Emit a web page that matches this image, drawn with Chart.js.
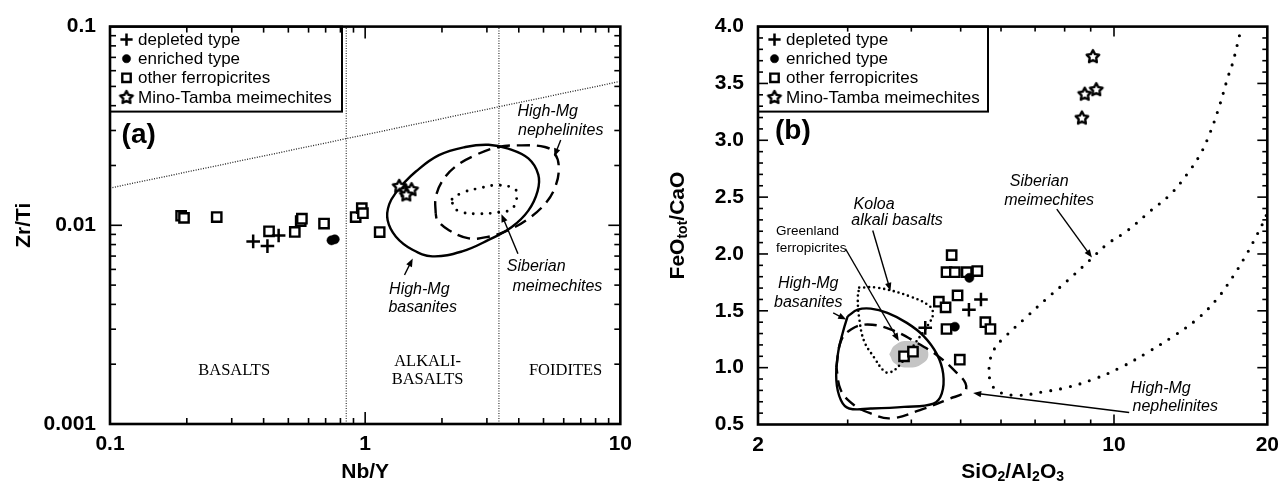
<!DOCTYPE html>
<html>
<head>
<meta charset="utf-8">
<script src="https://cdn.jsdelivr.net/npm/chart.js@4.4.1/dist/chart.umd.min.js"></script>
<style>
  html, body { margin: 0; padding: 0; background: #fff; overflow: hidden; }
  #wrap { position: relative; width: 1287px; height: 485px; }
  canvas { position: absolute; top: 0; }
  #chartA { left: 0; }
  #chartB { left: 640px; }
</style>
</head>
<body>
<div id="wrap">
  <canvas id="chartA" width="640" height="485"></canvas>
  <canvas id="chartB" width="647" height="485"></canvas>
</div>
<script>
// ---------------- Panel (a): Zr/Ti vs Nb/Y (log-log) ----------------
const A_X_TICKS = [0.1, 1, 10];
const A_X_TICK_LABELS = ['0.1', '1', '10'];
const A_Y_TICKS = [0.001, 0.01, 0.1];
const A_Y_TICK_LABELS = ['0.001', '0.01', '0.1'];

const A_DEPLETED = [[0.364, 0.0083], [0.414, 0.00786], [0.458, 0.00888]];
const A_ENRICHED = [[0.738, 0.0084], [0.76, 0.0085]];
const A_OTHER = [[0.19, 0.01117], [0.195, 0.0109], [0.262, 0.0110], [0.42, 0.00933], [0.53, 0.00926],
                 [0.559, 0.0105], [0.565, 0.0108], [0.69, 0.0102], [0.918, 0.0110], [0.97, 0.0122],
                 [0.98, 0.0115], [1.14, 0.00925]];
const A_MINO = [[1.36, 0.0158], [1.44, 0.0150], [1.52, 0.0152], [1.45, 0.0143]];

const A_BASANITE = [[1.36, 0.01545], [1.58, 0.01866], [1.946, 0.02254], [2.47, 0.02478], [3.045, 0.02543],
                    [3.64, 0.0243], [4.36, 0.0217], [4.77, 0.0180], [4.74, 0.01487], [4.36, 0.01186],
                    [3.755, 0.00981], [3.045, 0.00844], [2.40, 0.00739], [1.834, 0.00698], [1.533, 0.00753],
                    [1.32, 0.00876], [1.225, 0.01059], [1.243, 0.01279], [1.36, 0.01545]];
const A_NEPHELINITE = [[1.89, 0.01142], [1.89, 0.01378], [2.005, 0.01667], [2.26, 0.01975], [2.70, 0.02254],
                       [3.33, 0.02478], [4.11, 0.02526], [5.06, 0.02478], [5.54, 0.02297], [5.74, 0.01937],
                       [5.54, 0.01545], [5.06, 0.01279], [4.36, 0.01079], [3.64, 0.00945], [3.045, 0.00876],
                       [2.55, 0.0086], [2.13, 0.00945], [1.92, 0.01059], [1.89, 0.01142]];
const A_SIBERIAN = [[2.19, 0.01353], [2.40, 0.01459], [2.785, 0.01534], [3.33, 0.01592], [3.87, 0.01517],
                    [3.93, 0.01378], [3.755, 0.01208], [3.33, 0.01163], [2.785, 0.01142], [2.40, 0.01163],
                    [2.226, 0.0123], [2.19, 0.01353]];
const A_BOUNDARY_ALKALI = [[0.843, 0.001], [0.843, 0.1]];
const A_BOUNDARY_FOIDITE = [[3.344, 0.001], [3.344, 0.1]];
const A_BOUNDARY_UPPER = [[0.1, 0.0154], [10, 0.053]];

// ---------------- Panel (b): FeOtot/CaO vs SiO2/Al2O3 ----------------
const B_X_TICKS = [2, 10, 20];
const B_X_TICK_LABELS = ['2', '10', '20'];
const B_Y_TICKS = [0.5, 1.0, 1.5, 2.0, 2.5, 3.0, 3.5, 4.0];
const B_Y_TICK_LABELS = ['0.5', '1.0', '1.5', '2.0', '2.5', '3.0', '3.5', '4.0'];

const B_DEPLETED = [[4.26, 1.35], [5.19, 1.51], [5.48, 1.60]];
const B_ENRICHED = [[5.20, 1.79], [4.87, 1.36]];
const B_OTHER = [[4.80, 1.99], [4.69, 1.84], [4.87, 1.84], [5.14, 1.84], [5.39, 1.85], [4.53, 1.58],
                 [4.67, 1.53], [4.93, 1.635], [4.69, 1.34], [5.59, 1.40], [5.72, 1.34], [4.98, 1.07],
                 [3.87, 1.10], [4.03, 1.14]];
const B_MINO = [[9.09, 3.74], [8.76, 3.41], [9.23, 3.45], [8.65, 3.20]];

const B_BASANITE = [[3.00, 1.452], [3.14, 1.510], [3.33, 1.519], [3.59, 1.481], [3.92, 1.394], [4.23, 1.278],
                    [4.49, 1.119], [4.62, 0.945], [4.59, 0.771], [4.42, 0.684], [3.87, 0.655], [3.33, 0.641],
                    [3.02, 0.641], [2.91, 0.713], [2.85, 0.887], [2.87, 1.119], [2.94, 1.322], [3.00, 1.452]];
const B_NEPHELINITE = [[2.85, 1.003], [2.91, 1.235], [3.05, 1.337], [3.28, 1.38], [3.64, 1.337], [4.10, 1.22],
                       [4.55, 1.09], [4.90, 0.959], [5.11, 0.863], [5.09, 0.785], [4.76, 0.728], [4.16, 0.626],
                       [3.64, 0.554], [3.33, 0.597], [3.09, 0.670], [2.91, 0.80], [2.85, 1.003]];
const B_KOLOA = [[3.16, 1.704], [3.43, 1.704], [3.98, 1.626], [4.35, 1.539], [4.41, 1.467], [4.32, 1.38],
                 [4.10, 1.235], [3.81, 1.032], [3.64, 0.959], [3.54, 0.968], [3.38, 1.09], [3.23, 1.235],
                 [3.16, 1.437], [3.14, 1.611], [3.16, 1.704]];
const B_SIBERIAN = [[17.63, 3.92], [17.11, 3.684], [16.73, 3.554], [16.12, 3.307], [15.42, 3.061], [14.75, 2.872],
                    [13.89, 2.698], [12.90, 2.524], [11.80, 2.38], [10.63, 2.206], [9.72, 2.09], [8.96, 1.945],
                    [8.13, 1.771], [7.33, 1.597], [6.70, 1.437], [6.13, 1.278], [5.82, 1.163], [5.69, 1.017],
                    [5.73, 0.872], [5.95, 0.785], [6.50, 0.757], [7.22, 0.785], [8.13, 0.829], [9.16, 0.902],
                    [10.32, 1.003], [11.62, 1.133], [13.09, 1.278], [14.52, 1.423], [15.88, 1.597], [17.11, 1.80],
                    [18.16, 1.989], [18.98, 2.148], [19.70, 2.293], [20.3, 2.44]];
const B_GREENLAND = [[3.62, 1.119], [3.72, 1.200], [3.95, 1.235], [4.20, 1.200], [4.32, 1.119],
                     [4.20, 1.035], [3.95, 1.002], [3.72, 1.035], [3.62, 1.119]];

// ---------------- text placed in data coordinates ----------------
const A_LABELS = [
  { text: '(a)', x: 0.111, y: 0.0285, kind: 'panel', align: 'left' },
  { text: 'High-Mg', x: 5.19, y: 0.0372, kind: 'italic' },
  { text: 'nephelinites', x: 5.84, y: 0.0301, kind: 'italic' },
  { text: 'High-Mg', x: 1.63, y: 0.00473, kind: 'italic' },
  { text: 'basanites', x: 1.68, y: 0.00384, kind: 'italic' },
  { text: 'Siberian', x: 4.68, y: 0.00618, kind: 'italic' },
  { text: 'meimechites', x: 5.67, y: 0.00491, kind: 'italic' },
  { text: 'BASALTS', x: 0.3066, y: 0.00186, kind: 'serif' },
  { text: 'ALKALI-', x: 1.757, y: 0.00206, kind: 'serif' },
  { text: 'BASALTS', x: 1.757, y: 0.00167, kind: 'serif' },
  { text: 'FOIDITES', x: 6.1, y: 0.00186, kind: 'serif' }
];
const A_ARROWS = [
  { from: [5.84, 0.0269], to: [5.51, 0.0222] },
  { from: [1.426, 0.00562], to: [1.536, 0.0068] },
  { from: [3.97, 0.0072], to: [3.42, 0.01138] }
];
const B_LABELS = [
  { text: '(b)', x: 2.16, y: 3.076, kind: 'panel', align: 'left' },
  { text: 'Koloa', x: 3.38, y: 2.437, kind: 'italic' },
  { text: 'alkali basalts', x: 3.75, y: 2.293, kind: 'italic' },
  { text: 'Greenland', x: 2.17, y: 2.197, kind: 'small', align: 'left' },
  { text: 'ferropicrites', x: 2.17, y: 2.052, kind: 'small', align: 'left' },
  { text: 'High-Mg', x: 2.51, y: 1.739, kind: 'italic' },
  { text: 'basanites', x: 2.51, y: 1.574, kind: 'italic' },
  { text: 'Siberian', x: 7.13, y: 2.641, kind: 'italic' },
  { text: 'meimechites', x: 7.46, y: 2.472, kind: 'italic' },
  { text: 'High-Mg', x: 12.34, y: 0.815, kind: 'italic' },
  { text: 'nephelinites', x: 13.19, y: 0.655, kind: 'italic' }
];
const B_ARROWS = [
  { from: [3.36, 2.206], to: [3.64, 1.676] },
  { from: [2.97, 2.046], to: [3.78, 1.235] },
  { from: [2.81, 1.481], to: [2.98, 1.423] },
  { from: [7.72, 2.394], to: [9.05, 1.968] },
  { from: [10.71, 0.606], to: [5.29, 0.7765] }
];

// ---------------- drawing helpers ----------------
const SANS = '"Liberation Sans", Arial, Helvetica, sans-serif';
const SERIF = '"Liberation Serif", "Times New Roman", serif';
const FONTS = {
  panel: 'bold 28px ' + SANS,
  italic: 'italic 16px ' + SANS,
  small: '13.5px ' + SANS,
  serif: '16.5px ' + SERIF
};
const pts = arr => arr.map(([x, y]) => ({ x, y }));

// five-pointed white star with a heavy rounded outline, used for the meimechite samples
function makeStar(r) {
  const s = Math.ceil(2 * r + 8);
  const c = document.createElement('canvas');
  c.width = s; c.height = s;
  const g = c.getContext('2d');
  const cx = s / 2, cy = s / 2 + 0.6;
  g.beginPath();
  for (let i = 0; i < 10; i++) {
    const rr = i % 2 === 0 ? r : r * 0.52;
    const a = -Math.PI / 2 + i * Math.PI / 5;
    g.lineTo(cx + rr * Math.cos(a), cy + rr * Math.sin(a));
  }
  g.closePath();
  g.fillStyle = '#fff';
  g.fill();
  g.lineJoin = 'round';
  g.lineWidth = 2.4;
  g.strokeStyle = '#000';
  g.stroke();
  return c;
}
const STAR = makeStar(6.6);

function markerSets(dep, enr, oth, mino) {
  return [
    { label: 'depleted type', legendEntry: true, data: pts(dep), pointStyle: 'cross', pointRadius: 6.8,
      pointBorderWidth: 2.5, pointBorderColor: '#000', pointBackgroundColor: '#000' },
    { label: 'enriched type', legendEntry: true, data: pts(enr), pointStyle: 'circle', pointRadius: 4.6,
      pointBorderWidth: 0.5, pointBorderColor: '#000', pointBackgroundColor: '#000' },
    { label: 'other ferropicrites', legendEntry: true, data: pts(oth), pointStyle: 'rect', pointRadius: 6.6,
      pointBorderWidth: 2.4, pointBorderColor: '#000', pointBackgroundColor: '#fff' },
    { label: 'Mino-Tamba meimechites', legendEntry: true, data: pts(mino), pointStyle: STAR, pointRadius: 8,
      pointBorderWidth: 0, pointBorderColor: '#000', pointBackgroundColor: '#fff' }
  ];
}
function outline(data, dash, width, opts = {}) {
  const dotted = dash.length > 0 && dash[0] === 0;
  return Object.assign({
    data: pts(data), showLine: true, pointRadius: 0, borderColor: '#000', borderWidth: width,
    borderDash: dash, borderCapStyle: dotted ? 'round' : 'butt', borderJoinStyle: 'round',
    tension: 0.4, fill: false
  }, opts);
}

// frame with inward tick marks on all four sides
const frameTicks = {
  id: 'frameTicks',
  afterDatasetsDraw(chart, args, o) {
    const { ctx, chartArea: a, scales: { x, y } } = chart;
    ctx.save();
    ctx.strokeStyle = '#000';
    ctx.lineWidth = 1.6;
    const seg = (x1, y1, x2, y2) => { ctx.beginPath(); ctx.moveTo(x1, y1); ctx.lineTo(x2, y2); ctx.stroke(); };
    const vx = (vals, len) => vals.forEach(v => {
      const p = x.getPixelForValue(v);
      seg(p, a.bottom, p, a.bottom - len); seg(p, a.top, p, a.top + len);
    });
    const vy = (vals, len) => vals.forEach(v => {
      const p = y.getPixelForValue(v);
      seg(a.left, p, a.left + len, p); seg(a.right, p, a.right - len, p);
    });
    vx(o.xMinor, o.minorLen); vx(o.xMajor, o.majorLen);
    vy(o.yMinor, o.minorLen); vy(o.yMajor, o.majorLen);
    ctx.lineWidth = 2.6;
    ctx.strokeRect(a.left, a.top, a.right - a.left, a.bottom - a.top);
    ctx.restore();
  }
};

// boxed legend in the upper-left corner of the plot
const boxLegend = {
  id: 'boxLegend',
  afterDatasetsDraw(chart, args, o) {
    const { ctx, chartArea: a } = chart;
    ctx.save();
    ctx.fillStyle = '#fff';
    ctx.fillRect(a.left, a.top, o.width, o.height);
    ctx.lineWidth = 2;
    ctx.strokeStyle = '#000';
    ctx.strokeRect(a.left, a.top, o.width, o.height);
    chart.data.datasets.filter(d => d.legendEntry).forEach((d, i) => {
      const cy = a.top + o.firstRow + i * o.rowGap;
      ctx.fillStyle = d.pointBackgroundColor;
      ctx.strokeStyle = d.pointBorderColor;
      ctx.lineWidth = d.pointBorderWidth;
      Chart.helpers.drawPoint(ctx, { pointStyle: d.pointStyle, radius: d.pointRadius * 0.9,
        borderWidth: d.pointBorderWidth, rotation: 0 }, a.left + o.markerX, cy);
      ctx.fillStyle = '#000';
      ctx.font = o.font;
      ctx.textAlign = 'left';
      ctx.textBaseline = 'middle';
      ctx.fillText(d.label, a.left + o.textX, cy + 1);
    });
    ctx.restore();
  }
};

// field names, region names and pointer arrows
const notes = {
  id: 'notes',
  afterDatasetsDraw(chart, args, o) {
    const { ctx, scales: { x, y } } = chart;
    ctx.save();
    ctx.fillStyle = '#000';
    ctx.strokeStyle = '#000';
    (o.arrows || []).forEach(ar => {
      const x1 = x.getPixelForValue(ar.from[0]), y1 = y.getPixelForValue(ar.from[1]);
      const x2 = x.getPixelForValue(ar.to[0]), y2 = y.getPixelForValue(ar.to[1]);
      const ang = Math.atan2(y2 - y1, x2 - x1), L = 8, W = 3.2;
      const c = Math.cos(ang), s = Math.sin(ang);
      ctx.lineWidth = 1.4;
      ctx.beginPath(); ctx.moveTo(x1, y1); ctx.lineTo(x2 - c * 4, y2 - s * 4); ctx.stroke();
      ctx.beginPath();
      ctx.moveTo(x2, y2);
      ctx.lineTo(x2 - L * c + W * s, y2 - L * s - W * c);
      ctx.lineTo(x2 - L * c - W * s, y2 - L * s + W * c);
      ctx.closePath();
      ctx.fill();
    });
    (o.labels || []).forEach(l => {
      ctx.font = FONTS[l.kind];
      ctx.textAlign = l.align || 'center';
      ctx.textBaseline = 'middle';
      ctx.fillText(l.text, x.getPixelForValue(l.x), y.getPixelForValue(l.y));
    });
    ctx.restore();
  }
};

// axis titles with subscripts
const axisTitles = {
  id: 'axisTitles',
  afterDraw(chart, args, o) {
    const { ctx, chartArea: a } = chart;
    const big = 'bold 21px ' + SANS, sub = 'bold 14px ' + SANS;
    const draw = (parts, cx, cy, rot) => {
      ctx.save();
      ctx.translate(cx, cy);
      ctx.rotate(rot);
      ctx.fillStyle = '#000';
      ctx.textBaseline = 'middle';
      ctx.textAlign = 'left';
      let w = 0;
      parts.forEach(([t, isSub]) => { ctx.font = isSub ? sub : big; w += ctx.measureText(t).width; });
      let px = -w / 2;
      parts.forEach(([t, isSub]) => {
        ctx.font = isSub ? sub : big;
        ctx.fillText(t, px, isSub ? 5 : 0);
        px += ctx.measureText(t).width;
      });
      ctx.restore();
    };
    draw(o.x, (a.left + a.right) / 2, a.bottom + o.xOffset, 0);
    draw(o.y, a.left - o.yOffset, (a.top + a.bottom) / 2, -Math.PI / 2);
  }
};

function axisOptions(kind, min, max, ticks, labels, fitSize, isX) {
  return {
    type: kind, min, max,
    afterFit: s => { if (isX) s.height = fitSize; else s.width = fitSize; },
    afterBuildTicks: s => { s.ticks = ticks.map(v => ({ value: v })); },
    ticks: {
      callback: (v, i) => labels[i],
      font: { family: SANS, size: 21, weight: 'bold' },
      color: '#000', padding: isX ? 8 : 14, maxRotation: 0, autoSkip: false
    },
    grid: { display: false, drawTicks: false },
    border: { display: false }
  };
}

function makeChart(id, cfg) {
  return new Chart(document.getElementById(id), {
    type: 'scatter',
    data: { datasets: cfg.datasets },
    options: {
      responsive: false,
      animation: false,
      devicePixelRatio: 1,
      events: [],
      layout: { padding: cfg.padding },
      plugins: {
        legend: { display: false },
        tooltip: { enabled: false },
        boxLegend: cfg.legend,
        frameTicks: cfg.ticks,
        notes: { labels: cfg.labels, arrows: cfg.arrows },
        axisTitles: cfg.titles
      },
      scales: { x: cfg.x, y: cfg.y }
    },
    plugins: [boxLegend, notes, frameTicks, axisTitles]
  });
}

const LEGEND_STYLE = { height: 85, firstRow: 13, rowGap: 19.1, markerX: 16.5, textX: 28, font: '17px ' + SANS };
const range = (from, to, step) => { const r = []; for (let v = from; v <= to + 1e-9; v += step) r.push(+v.toFixed(3)); return r; };

// Panel (a)
makeChart('chartA', {
  padding: { left: 0, top: 22, right: 13, bottom: 0 },
  datasets: [
    ...markerSets(A_DEPLETED, A_ENRICHED, A_OTHER, A_MINO),
    outline(A_BASANITE, [], 2.4),
    outline(A_NEPHELINITE, [13, 7], 2.4),
    outline(A_SIBERIAN, [0, 8.5], 2.9),
    outline(A_BOUNDARY_ALKALI, [1, 1.5], 1.1, { borderColor: '#222', tension: 0 }),
    outline(A_BOUNDARY_FOIDITE, [1, 1.5], 1.1, { borderColor: '#222', tension: 0 }),
    outline(A_BOUNDARY_UPPER, [1, 1.5], 1.3, { borderColor: '#222', tension: 0 })
  ],
  x: axisOptions('logarithmic', 0.1, 10, A_X_TICKS, A_X_TICK_LABELS, 61, true),
  y: axisOptions('logarithmic', 0.001, 0.1, A_Y_TICKS, A_Y_TICK_LABELS, 110, false),
  legend: Object.assign({ width: 232 }, LEGEND_STYLE),
  ticks: {
    xMinor: [0.2, 0.3, 0.4, 0.5, 0.6, 0.7, 0.8, 0.9, 2, 3, 4, 5, 6, 7, 8, 9], xMajor: [1],
    yMinor: [0.002, 0.003, 0.004, 0.005, 0.006, 0.007, 0.008, 0.009, 0.02, 0.03, 0.04, 0.05, 0.06, 0.07, 0.08, 0.09],
    yMajor: [0.01], minorLen: 6, majorLen: 12
  },
  labels: A_LABELS,
  arrows: A_ARROWS,
  titles: { x: [['Nb/Y', false]], y: [['Zr/Ti', false]], xOffset: 48, yOffset: 86 }
});

// Panel (b)
makeChart('chartB', {
  padding: { left: 0, top: 22, right: 12, bottom: 0 },
  datasets: [
    ...markerSets(B_DEPLETED, B_ENRICHED, B_OTHER, B_MINO),
    outline(B_BASANITE, [], 2.4),
    outline(B_NEPHELINITE, [12, 7], 2.4),
    outline(B_KOLOA, [0, 5], 2.6),
    outline(B_SIBERIAN, [0, 10], 3.1),
    outline(B_GREENLAND, [], 0, { fill: 'shape', backgroundColor: '#c4c4c4', borderColor: 'rgba(0,0,0,0)', tension: 0.5 })
  ],
  x: axisOptions('logarithmic', 2, 20, B_X_TICKS, B_X_TICK_LABELS, 60.5, true),
  y: axisOptions('linear', 0.5, 4.0, B_Y_TICKS, B_Y_TICK_LABELS, 118, false),
  legend: Object.assign({ width: 230 }, LEGEND_STYLE),
  ticks: {
    xMinor: [3, 4, 5, 6, 7, 8, 9], xMajor: [10],
    yMinor: range(0.6, 3.9, 0.1).filter(v => Math.abs(v * 2 - Math.round(v * 2)) > 1e-6),
    yMajor: [1.0, 1.5, 2.0, 2.5, 3.0, 3.5],
    minorLen: 5, majorLen: 10
  },
  labels: B_LABELS,
  arrows: B_ARROWS,
  titles: { x: [['SiO', false], ['2', true], ['/Al', false], ['2', true], ['O', false], ['3', true]],
            y: [['FeO', false], ['tot', true], ['/CaO', false]], xOffset: 48, yOffset: 80 }
});
</script>
</body>
</html>
